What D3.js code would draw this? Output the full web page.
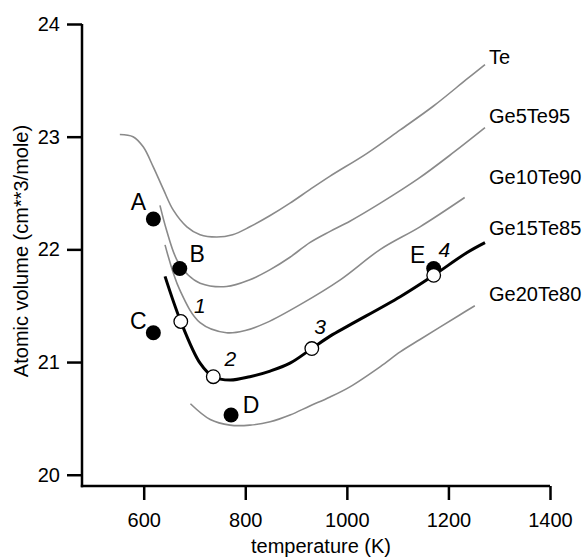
<!DOCTYPE html>
<html>
<head>
<meta charset="utf-8">
<script src="https://cdnjs.cloudflare.com/ajax/libs/d3/7.8.5/d3.min.js"></script>
<style>
  body{ margin:0; background:#fff; }
  text{ font-family:"Liberation Sans", Arial, Helvetica, sans-serif; }
</style>
</head>
<body>
<div id="chart"></div>
<script>
// Curves: [temperature K, atomic volume].
const te       = [ [553,23.02], [579,23.0], [599,22.91], [619,22.73], [639,22.53], [658,22.35], [685,22.2], [711,22.13], [744,22.11], [775,22.13], [809,22.2], [849,22.3], [888,22.41], [927,22.53], [967,22.65], [1039,22.85], [1105,23.06], [1170,23.27], [1236,23.51], [1272,23.64] ];
const ge5te95  = [ [632,22.39], [645,22.17], [665,21.91], [688,21.77], [711,21.7], [763,21.67], [809,21.73], [849,21.82], [888,21.93], [927,22.06], [967,22.16], [1006,22.25], [1066,22.41], [1140,22.625], [1210,22.86], [1272,23.08] ];
const ge10te90 = [ [642,22.04], [671,21.64], [711,21.35], [763,21.26], [800,21.28], [842,21.35], [908,21.51], [987,21.73], [1066,22.0], [1144,22.2], [1232,22.46] ];
const ge15te85 = [ [642,21.76], [673,21.36], [711,20.99], [737,20.87], [770,20.84], [809,20.87], [849,20.92], [888,20.99], [931,21.12], [967,21.23], [1006,21.33], [1105,21.58], [1171,21.77], [1236,21.97], [1272,22.06] ];
const ge20te80 = [ [692,20.63], [731,20.49], [770,20.44], [809,20.44], [849,20.47], [888,20.53], [927,20.61], [967,20.69], [1006,20.78], [1066,20.96], [1105,21.09], [1144,21.2], [1223,21.42], [1252,21.5] ];

const series_names = [ 'Te', 'Ge5Te95', 'Ge10Te90', 'Ge15Te85', 'Ge20Te80' ];
const label_y = [ 23.71, 23.18, 22.645, 22.19, 21.6 ];

// Filled points A..E and open points 1..4.
const filled_labels = [ 'A', 'B', 'C', 'D', 'E' ];
const filled_points = [ [619,22.27], [671,21.83], [619,21.26], [772,20.53], [1171,21.83] ];
const open_labels = [ '1', '2', '3', '4' ];
const open_points = [ [673,21.36], [737,20.87], [931,21.12], [1171,21.77] ];

const x_ticks = [ 600, 800, 1000, 1200, 1400 ];
const y_ticks = [ 20, 21, 22, 23, 24 ];

const width = 586, height = 558;

const svg = d3.select( '#chart' )
  .append( 'svg' )
    .attr( 'width', width )
    .attr( 'height', height );

const x = d3.scaleLinear().domain( [ 478.5, 1400 ] ).range( [ 82, 550 ] );
const y = d3.scaleLinear().domain( [ 19.9, 24 ] ).range( [ 486, 24 ] );

// Axes
const xAxis = svg.append( 'g' )
  .attr( 'transform', 'translate(0,486)' )
  .call( d3.axisBottom( x ).tickValues( x_ticks ).tickFormat( d3.format( 'd' ) )
    .tickSize( 14 ).tickPadding( 13 ).tickSizeOuter( 0 ) );
const yAxis = svg.append( 'g' )
  .attr( 'transform', 'translate(82,0)' )
  .call( d3.axisLeft( y ).tickValues( y_ticks ).tickFormat( d3.format( 'd' ) )
    .tickSize( 15 ).tickPadding( 7 ).tickSizeOuter( 0 ) );

[ xAxis, yAxis ].forEach( function( a ){
  a.select( '.domain' ).attr( 'stroke', '#000' ).attr( 'stroke-width', 2.5 );
  a.selectAll( '.tick line' ).attr( 'stroke', '#000' ).attr( 'stroke-width', 2.5 );
  a.selectAll( '.tick text' ).attr( 'fill', '#000' ).style( 'font-size', '20px' );
});
// y axis line starts at 24, x axis line ends at 1400
yAxis.select( '.domain' ).attr( 'd', 'M0,' + y( 24 ) + 'V' + 487.2 );
xAxis.select( '.domain' ).attr( 'd', 'M' + ( x.range()[0] - 1.2 ) + ',0H' + x( 1400 ) );

// Axis titles
svg.append( 'text' )
  .attr( 'x', 321 )
  .attr( 'y', 553 )
  .attr( 'text-anchor', 'middle' )
  .style( 'font-size', '20px' )
  .text( 'temperature (K)' );
svg.append( 'text' )
  .attr( 'transform', 'translate(28,251) rotate(-90)' )
  .attr( 'text-anchor', 'middle' )
  .style( 'font-size', '20px' )
  .text( 'Atomic volume (cm**3/mole)' );

// Curves
const line = d3.line()
  .x( function( d ){ return x( d[0] ); } )
  .y( function( d ){ return y( d[1] ); } )
  .curve( d3.curveCatmullRom );

const curves = [ te, ge5te95, ge10te90, ge15te85, ge20te80 ];
curves.forEach( function( c, i ){
  const bold = ( i === 3 );
  svg.append( 'path' )
    .attr( 'd', line( c ) )
    .attr( 'fill', 'none' )
    .attr( 'stroke', bold ? '#000' : '#8a8a8a' )
    .attr( 'stroke-width', bold ? 3 : 1.6 );
});

// Series labels at right
svg.selectAll( '.series_label' )
  .data( series_names )
  .enter()
  .append( 'text' )
    .attr( 'class', 'series_label' )
    .attr( 'x', 489 )
    .attr( 'y', function( d, i ){ return y( label_y[i] ); } )
    .attr( 'dy', '0.35em' )
    .style( 'font-size', '20px' )
    .text( function( d ){ return d; } );

// Filled points
svg.selectAll( '.filled' )
  .data( filled_points )
  .enter()
  .append( 'circle' )
    .attr( 'class', 'filled' )
    .attr( 'cx', function( d ){ return x( d[0] ); } )
    .attr( 'cy', function( d ){ return y( d[1] ); } )
    .attr( 'r', 7.5 )
    .attr( 'fill', '#000' );

// Letter labels, offsets from their points (label centre)
const filled_offsets = [ [ -15, -16.5 ], [ 17.5, -15 ], [ -15, -11.6 ], [ 20, -10 ], [ -16, -14 ] ];
svg.selectAll( '.filled_label' )
  .data( filled_points )
  .enter()
  .append( 'text' )
    .attr( 'class', 'filled_label' )
    .attr( 'x', function( d, i ){ return x( d[0] ) + filled_offsets[i][0]; } )
    .attr( 'y', function( d, i ){ return y( d[1] ) + filled_offsets[i][1]; } )
    .attr( 'text-anchor', 'middle' )
    .attr( 'dy', '0.35em' )
    .style( 'font-size', '23px' )
    .text( function( d, i ){ return filled_labels[i]; } );

// Open points
svg.selectAll( '.open' )
  .data( open_points )
  .enter()
  .append( 'circle' )
    .attr( 'class', 'open' )
    .attr( 'cx', function( d ){ return x( d[0] ); } )
    .attr( 'cy', function( d ){ return y( d[1] ); } )
    .attr( 'r', 6.8 )
    .attr( 'fill', '#fff' )
    .attr( 'stroke', '#000' )
    .attr( 'stroke-width', 1.3 );

const open_offsets = [ [ 19, -16 ], [ 17, -18 ], [ 8.3, -21.6 ], [ 10.7, -25.7 ] ];
svg.selectAll( '.open_label' )
  .data( open_points )
  .enter()
  .append( 'text' )
    .attr( 'class', 'open_label' )
    .attr( 'x', function( d, i ){ return x( d[0] ) + open_offsets[i][0]; } )
    .attr( 'y', function( d, i ){ return y( d[1] ) + open_offsets[i][1]; } )
    .attr( 'text-anchor', 'middle' )
    .attr( 'dy', '0.35em' )
    .style( 'font-size', '21px' )
    .style( 'font-style', 'italic' )
    .text( function( d, i ){ return open_labels[i]; } );
</script>
</body>
</html>
